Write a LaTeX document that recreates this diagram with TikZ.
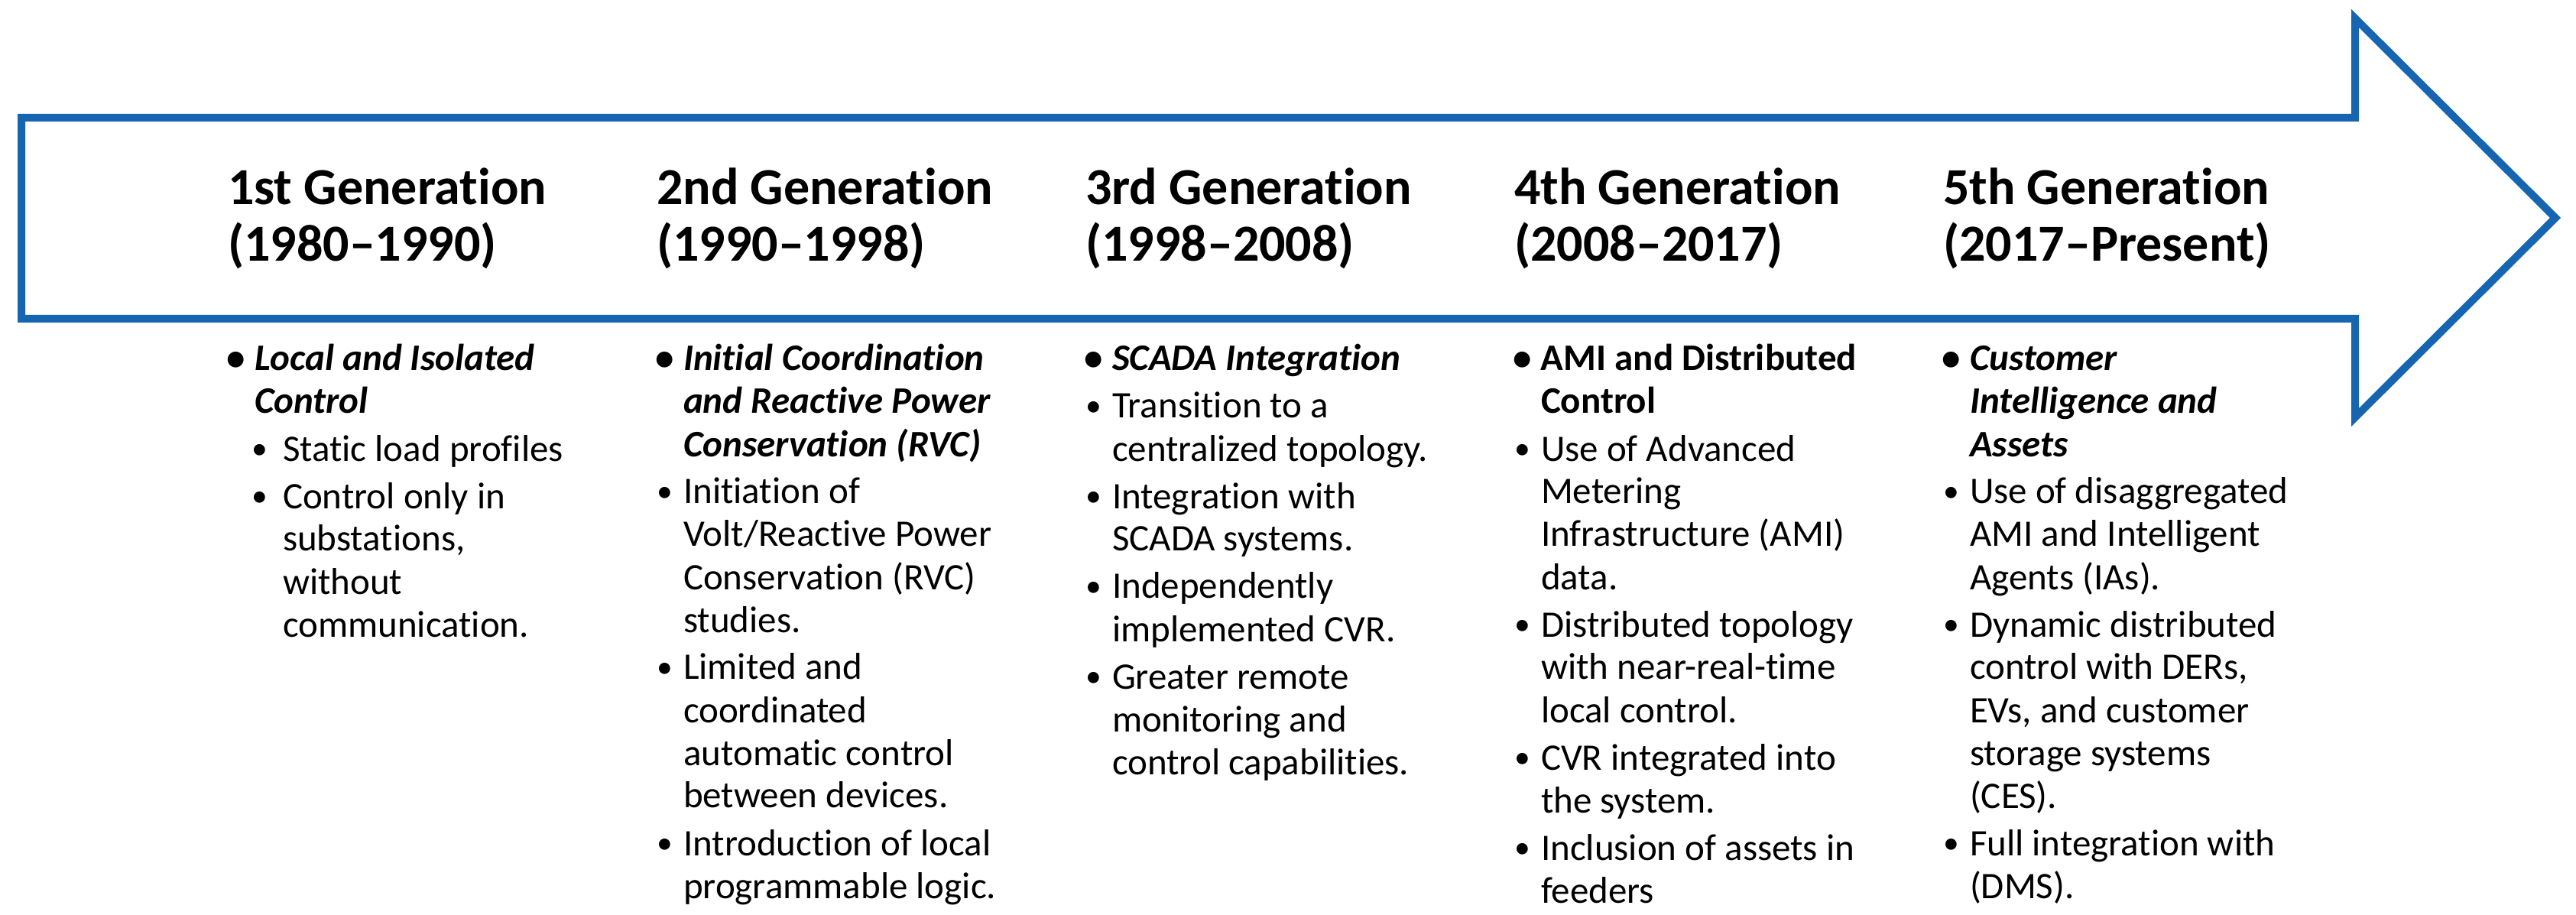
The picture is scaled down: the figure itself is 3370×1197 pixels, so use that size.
\documentclass[tikz,border=0pt]{standalone}
\usepackage{fontspec}
\setmainfont{Carlito}[Ligatures=NoCommon,RawFeature={-clig}]
\definecolor{arrowblue}{HTML}{1565B1}
\newcommand\regbul{\raisebox{0.05em}{\scalebox{0.85}{\textbullet}}}
\newcommand\boldbul{\textbf{\textbullet}}
\newcommand\topitem[1]{\par\hangindent=17.5pt\hangafter=1\noindent\hspace*{5.25pt}\makebox[0pt][c]{\boldbul}\hspace*{12.25pt}#1\par}
\newcommand\plainitem[1]{\par\hangindent=17.5pt\hangafter=1\noindent\hspace*{5.25pt}\makebox[0pt][c]{\regbul}\hspace*{12.25pt}#1\par}
\newcommand\lowitem[1]{\par\hangindent=36pt\hangafter=1\noindent\hspace*{21pt}\makebox[0pt][c]{\regbul}\hspace*{15pt}#1\par}
\newcommand\colbody[1]{\begin{minipage}[t]{280pt}\raggedright\fontsize{24.5pt}{28pt}\selectfont\setlength\parskip{3pt}#1\end{minipage}}
\newcommand\colhead[1]{\begin{minipage}[t]{280pt}\raggedright\fontsize{34pt}{37pt}\selectfont\bfseries #1\end{minipage}}
\tikzset{
  bigarrow/.style={draw=arrowblue, line width=5pt, line join=miter, fill=white},
  txt/.style={inner sep=0pt, outer sep=0pt, anchor=base west}
}
\begin{document}
\begin{tikzpicture}[x=0.5pt, y=-0.5pt]
\path[use as bounding box] (0,0) rectangle (3370,1197);
\fill[white] (0,0) rectangle (3370,1197);
\draw[bigarrow] (28,154) -- (3081,154) -- (3081,24) -- (3343,285) -- (3081,546) -- (3081,417) -- (28,417) -- cycle;

\node[txt] (h1) at (298,268) {\colhead{1st Generation\\(1980–1990)}};
\node[txt] (h2) at (859,268) {\colhead{2nd Generation\\(1990–1998)}};
\node[txt] (h3) at (1420,268) {\colhead{3rd Generation\\(1998–2008)}};
\node[txt] (h4) at (1981,268) {\colhead{4th Generation\\(2008–2017)}};
\node[txt] (h5) at (2542,268) {\colhead{5th Generation\\(2017–Present)}};

\node[txt] (b1) at (298,485) {\colbody{%
\topitem{\textbf{\textit{Local and Isolated\newline Control}}}
\lowitem{Static load profiles}
\lowitem{Control only in\newline substations,\newline without\newline communication.}}};

\node[txt] (b2) at (859,485) {\colbody{%
\topitem{\textbf{\textit{Initial Coordination\newline and Reactive Power\newline Conservation (RVC)}}}
\plainitem{Initiation of\newline Volt/Reactive Power\newline Conservation (RVC)\newline studies.}
\plainitem{Limited and\newline coordinated\newline automatic control\newline between devices.}
\plainitem{Introduction of local\newline programmable logic.}}};

\node[txt] (b3) at (1420,485) {\colbody{%
\topitem{\textbf{\textit{SCADA Integration}}}
\plainitem{Transition to a\newline centralized topology.}
\plainitem{Integration with\newline SCADA systems.}
\plainitem{Independently\newline implemented CVR.}
\plainitem{Greater remote\newline monitoring and\newline control capabilities.}}};

\node[txt] (b4) at (1981,485) {\colbody{%
\topitem{\textbf{AMI and Distributed\newline Control}}
\plainitem{Use of Advanced\newline Metering\newline Infrastructure (AMI)\newline data.}
\plainitem{Distributed topology\newline with near-real-time\newline local control.}
\plainitem{CVR integrated into\newline the system.}
\plainitem{Inclusion of assets in\newline feeders}}};

\node[txt] (b5) at (2542,485) {\colbody{%
\topitem{\textbf{\textit{Customer\newline Intelligence and\newline Assets}}}
\plainitem{Use of disaggregated\newline AMI and Intelligent\newline Agents (IAs).}
\plainitem{Dynamic distributed\newline control with DERs,\newline EVs, and customer\newline storage systems\newline (CES).}
\plainitem{Full integration with\newline (DMS).}}};
\end{tikzpicture}
\end{document}
